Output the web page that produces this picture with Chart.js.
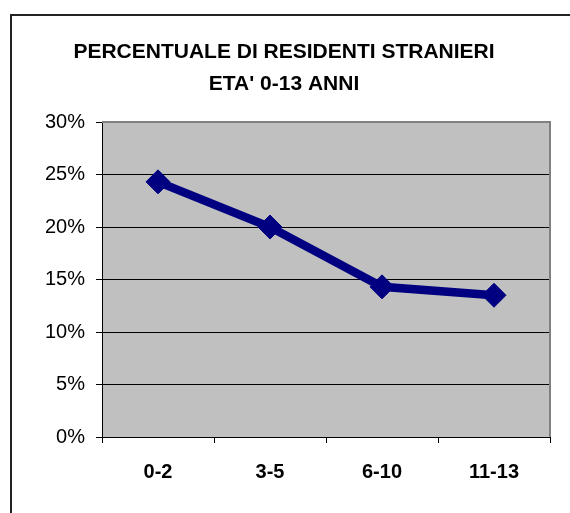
<!DOCTYPE html>
<html>
<head>
<meta charset="utf-8">
<script src="https://cdn.jsdelivr.net/npm/chart.js@4"></script>
<style>
  html, body { margin: 0; padding: 0; background: #fff; }
  #wrap { width: 570px; height: 513px; }
</style>
</head>
<body>
<div id="wrap"><canvas id="Chart" width="570" height="513"></canvas></div>
<script>
var fasce = ['0-2', '3-5', '6-10', '11-13'];
var percentuali = [24.3, 20.0, 14.3, 13.5];
var titolo = ['PERCENTUALE DI RESIDENTI STRANIERI', "ETA' 0-13 ANNI"];
var tickMax = 30;
var tickStep = 5;

// sfondo grigio dell'area del grafico + cornice esterna
var sfondo = {
    id: 'sfondo',
    beforeDraw: function(chart) {
        var c = chart.ctx, a = chart.chartArea;
        c.save();
        c.fillStyle = '#C0C0C0';
        c.fillRect(a.left, a.top, a.right - a.left, a.bottom - a.top);
        c.restore();
    },
    afterDraw: function(chart) {
        var c = chart.ctx, a = chart.chartArea;
        c.save();
        c.strokeStyle = '#808080';
        c.lineWidth = 2;
        c.beginPath();
        c.moveTo(a.left, a.top);
        c.lineTo(a.right, a.top);
        c.lineTo(a.right, a.bottom);
        c.stroke();
        c.strokeStyle = '#222';
        c.lineWidth = 2;
        c.beginPath();
        c.moveTo(11, 600);
        c.lineTo(11, 15);
        c.lineTo(600, 15);
        c.stroke();
        c.restore();
    }
};

function createchart(labels, dati) {
    var ctx = document.getElementById('Chart').getContext('2d');
    new Chart(ctx, {
        type: 'line',
        data: {
            labels: labels,
            datasets: [{
                data: dati,
                borderColor: '#000080',
                backgroundColor: '#000080',
                borderWidth: 8.5,
                pointStyle: 'rectRot',
                pointRadius: 12,
                pointBorderWidth: 1,
                pointHoverRadius: 12,
                tension: 0
            }]
        },
        options: {
            responsive: false,
            animation: false,
            layout: { padding: { left: 18, right: 20, top: 0, bottom: 0 } },
            plugins: {
                legend: { display: false },
                tooltip: { enabled: false },
                title: {
                    display: true,
                    text: titolo,
                    color: '#000',
                    font: { family: 'Liberation Sans, Arial', size: 21, weight: 'bold', lineHeight: '32px' },
                    padding: { top: 36, bottom: 22 }
                }
            },
            scales: {
                x: {
                    offset: true,
                    grid: { offset: true, drawOnChartArea: false, color: '#000', tickLength: 6 },
                    border: { color: '#000', width: 1 },
                    ticks: {
                        color: '#000',
                        padding: 17,
                        maxRotation: 0,
                        font: { family: 'Liberation Sans, Arial', size: 20, weight: 'bold' }
                    },
                    afterFit: function(s) { s.height = 76; }
                },
                y: {
                    min: 0,
                    max: tickMax,
                    grid: { color: '#000', tickLength: 6 },
                    border: { color: '#000', width: 1 },
                    ticks: {
                        stepSize: tickStep,
                        color: '#000',
                        padding: 11,
                        font: { family: 'Liberation Sans, Arial', size: 20 },
                        callback: function(v) { return v + '%'; }
                    },
                    afterFit: function(s) { s.width = 84; }
                }
            }
        },
        plugins: [sfondo]
    });
}

createchart(fasce, percentuali);
</script>
</body>
</html>
